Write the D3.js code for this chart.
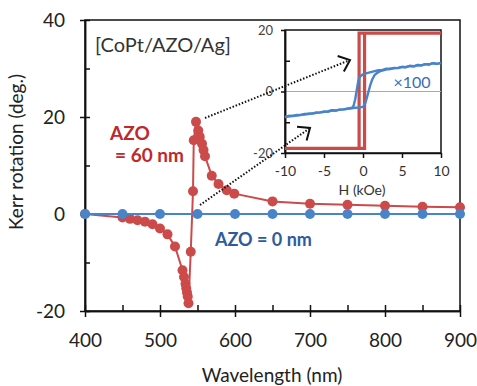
<!DOCTYPE html>
<html>
<head>
<meta charset="utf-8">
<script src="https://cdn.jsdelivr.net/npm/d3@7"></script>
<style>
  html, body { margin: 0; padding: 0; background: #fff; }
  svg { display: block; font-family: Lato, "Open Sans", sans-serif; }
</style>
</head>
<body>
<svg id="chart" width="477" height="386"></svg>
<script>
// Kerr rotation spectra, CoPt/AZO/Ag stack
const wavelength60 = [400, 450, 460, 470, 480, 490, 500, 510, 520, 530, 532, 534, 535, 536, 537, 538, 541, 544, 545, 548, 551, 553, 556, 558, 560, 569, 578, 589, 599, 650, 700, 750, 800, 850, 900];
const kerr60 = [0, -0.7, -1.0, -1.3, -1.6, -2.1, -3.0, -4.2, -6.7, -11.6, -13.0, -14.4, -15.3, -16.2, -17.0, -18.4, -7.8, 4.7, 15.2, 19.0, 17.2, 15.9, 14.5, 13.2, 11.9, 7.9, 6.2, 4.9, 4.2, 2.6, 2.1, 1.9, 1.7, 1.5, 1.4];
const wavelength0 = [400, 450, 500, 550, 600, 650, 700, 750, 800, 850, 900];
const kerr0 = [0, 0, 0, 0, 0, 0, 0, 0, 0, 0, 0];

const xTicks = [400, 500, 600, 700, 800, 900];
const xMinorTicks = [450, 550, 650, 750, 850];
const yTicks = [-20, 0, 20, 40];
const yMinorTicks = [-10, 10, 30];

// Hysteresis loops (inset): field in kOe, rotation in deg.
const loopH60 = [-10, 0.2, 0.2, 10, -0.5, -0.5, -10];
const loopK60 = [-18.5, -18.5, 19, 19, 19, -18.5, -18.5];
const loopHDown0 = [10, 9.5, 9, 8.5, 8, 7.5, 7, 6.5, 6, 5.5, 5, 4.5, 4, 3.5, 3, 2.5, 2, 1.5, 1, 0.5, 0, -0.4, -0.6, -0.8, -1.0, -1.2, -1.4, -2, -2.5, -3, -3.5, -4, -4.5, -5, -5.5, -6, -6.5, -7, -7.5, -8, -8.5, -9, -9.5, -10];
const loopKDown0 = [9.3, 9.0, 9.2, 8.8, 8.9, 8.5, 8.6, 8.2, 8.3, 7.9, 8.0, 7.6, 7.7, 7.3, 7.4, 7.0, 6.9, 6.6, 6.3, 6.0, 5.6, 4.8, 3.5, 0.5, -2.5, -4.6, -5.3, -5.6, -5.8, -5.9, -6.2, -6.1, -6.5, -6.6, -6.8, -6.9, -7.1, -7.3, -7.3, -7.7, -7.6, -8.0, -7.9, -8.3];
const loopHUp0 = [-10, -9.5, -9, -8.5, -8, -7.5, -7, -6.5, -6, -5.5, -5, -4.5, -4, -3.5, -3, -2.5, -2, -1.5, -1, -0.5, 0, 0.3, 0.6, 0.9, 1.2, 1.5, 1.8, 2.2, 2.6, 3, 3.5, 4, 4.5, 5, 5.5, 6, 6.5, 7, 7.5, 8, 8.5, 9, 9.5, 10];
const loopKUp0 = [-8.3, -8.1, -7.9, -7.8, -7.6, -7.5, -7.2, -7.2, -6.9, -6.8, -6.6, -6.5, -6.2, -6.2, -5.9, -5.8, -5.6, -5.5, -5.3, -5.2, -5.0, -3.8, -1.0, 1.8, 4.0, 5.4, 6.0, 6.6, 6.9, 7.2, 7.4, 7.6, 7.7, 8.0, 7.9, 8.3, 8.2, 8.6, 8.5, 8.9, 8.8, 9.2, 9.0, 9.3];
const insetXTicks = [-10, -5, 0, 5, 10];
const insetYTicks = [-20, 0, 20];
const insetYMinorTicks = [-10, 10];

const RED = "#cc4a4a", BLUE = "#4a84c8";
const RED_TEXT = "#c0282d", BLUE_TEXT = "#2c5b9e";
const plain = d => String(d);   // ASCII hyphen for negatives

const svg = d3.select("#chart");

// ---------- main chart ----------
const x = d3.scaleLinear().domain([400, 900]).range([85, 460]);
const y = d3.scaleLinear().domain([-20, 40]).range([311, 20]);

// frame
svg.append("rect").attr("x", 85).attr("y", 20).attr("width", 375).attr("height", 291)
  .attr("fill", "none").attr("stroke", "#111").attr("stroke-width", 1.5);

function styleAxis(g) {
  g.selectAll("path").attr("stroke", "#111").attr("stroke-width", 1.5);
  g.selectAll("line").attr("stroke", "#111").attr("stroke-width", 1.5);
  g.selectAll("text").attr("fill", "#222");
}

// y axis: outer major ticks with labels, inner ticks on every step
svg.append("g").attr("transform", "translate(85,0)")
  .call(d3.axisLeft(y).tickValues(yTicks).tickFormat(plain).tickSize(5).tickSizeOuter(0).tickPadding(15))
  .call(styleAxis)
  .call(g => g.selectAll("text").attr("font-size", 19).attr("font-family", "Lato"));
svg.append("g").attr("transform", "translate(85,0)")
  .call(d3.axisRight(y).tickValues(yTicks.concat(yMinorTicks)).tickSize(5).tickSizeOuter(0).tickFormat(""))
  .call(styleAxis);

// x axis
svg.append("g").attr("transform", "translate(0,311)")
  .call(d3.axisBottom(x).tickValues(xTicks).tickFormat(plain).tickSize(6).tickSizeOuter(0).tickPadding(17))
  .call(styleAxis)
  .call(g => g.selectAll("text").attr("font-size", 19).attr("font-family", "Lato"));
svg.append("g").attr("transform", "translate(0,311)")
  .call(d3.axisTop(x).tickValues(xTicks.concat(xMinorTicks)).tickSize(6).tickSizeOuter(0).tickFormat(""))
  .call(styleAxis);

// axis titles
svg.append("text").attr("x", 272).attr("y", 382).attr("text-anchor", "middle")
  .attr("font-size", 19).attr("fill", "#222").text("Wavelength (nm)");
svg.append("text").attr("transform", "translate(23,152) rotate(-90)").attr("text-anchor", "middle")
  .attr("font-size", 19).attr("fill", "#222").text("Kerr rotation (deg.)");

// series
const line = d3.line().x(d => x(d[0])).y(d => y(d[1]));
const red = wavelength60.map((w, i) => [w, kerr60[i]]);
const blue = wavelength0.map((w, i) => [w, kerr0[i]]);

svg.append("path").datum(red).attr("d", line).attr("fill", "none")
  .attr("stroke", RED).attr("stroke-width", 2);
svg.append("g").selectAll("circle").data(red).join("circle")
  .attr("cx", d => x(d[0])).attr("cy", d => y(d[1])).attr("r", 5).attr("fill", RED);

svg.append("path").datum(blue).attr("d", line).attr("fill", "none")
  .attr("stroke", BLUE).attr("stroke-width", 2);
svg.append("g").selectAll("circle").data(blue).join("circle")
  .attr("cx", d => x(d[0])).attr("cy", d => y(d[1])).attr("r", 5).attr("fill", BLUE);

// labels
svg.append("text").attr("x", 95).attr("y", 52).attr("font-size", 20).attr("fill", "#333")
  .text("[CoPt/AZO/Ag]");
svg.append("text").attr("x", 110).attr("y", 140).attr("font-size", 19).attr("font-weight", "bold")
  .attr("fill", RED_TEXT).text("AZO");
svg.append("text").attr("x", 115).attr("y", 162).attr("font-size", 19).attr("font-weight", "bold")
  .attr("fill", RED_TEXT).text("= 60 nm");
svg.append("text").attr("x", 215).attr("y", 246).attr("font-size", 18).attr("font-weight", "bold")
  .attr("fill", BLUE_TEXT).text("AZO = 0 nm");

// ---------- inset: hysteresis loops ----------
const ix = d3.scaleLinear().domain([-10, 10]).range([285, 441]);
const iy = d3.scaleLinear().domain([-20, 20]).range([153, 30]);

svg.append("rect").attr("x", 285).attr("y", 30).attr("width", 156).attr("height", 123)
  .attr("fill", "#fff").attr("stroke", "#111").attr("stroke-width", 1.5);
svg.append("line").attr("x1", ix(-10)).attr("x2", ix(10)).attr("y1", iy(0)).attr("y2", iy(0))
  .attr("stroke", "#aaa").attr("stroke-width", 1.2);

svg.append("g").attr("transform", "translate(285,0)")
  .call(d3.axisLeft(iy).tickValues(insetYTicks).tickFormat(plain).tickSize(4).tickSizeOuter(0).tickPadding(8))
  .call(styleAxis)
  .call(g => g.selectAll("text").attr("font-size", 13).attr("fill", "#444").attr("font-family", "Lato"));
svg.append("g").attr("transform", "translate(285,0)")
  .call(d3.axisRight(iy).tickValues(insetYMinorTicks).tickSize(5).tickSizeOuter(0).tickFormat(""))
  .call(styleAxis);
svg.append("g").attr("transform", "translate(0,153)")
  .call(d3.axisBottom(ix).tickValues(insetXTicks).tickFormat(plain).tickSize(5).tickSizeOuter(0).tickPadding(8))
  .call(styleAxis)
  .call(g => g.selectAll("text").attr("font-size", 14).attr("fill", "#333").attr("font-family", "Lato"));
svg.append("text").attr("x", 362).attr("y", 195).attr("text-anchor", "middle")
  .attr("font-size", 14).attr("fill", "#333").text("H (kOe)");

const iline = d3.line().x(d => ix(d[0])).y(d => iy(d[1]));
svg.append("path").datum(loopH60.map((h, i) => [h, loopK60[i]])).attr("d", iline)
  .attr("fill", "none").attr("stroke", RED).attr("stroke-width", 3.2).attr("stroke-linejoin", "miter");
svg.append("path").datum(loopHDown0.map((h, i) => [h, loopKDown0[i]])).attr("d", iline)
  .attr("fill", "none").attr("stroke", BLUE).attr("stroke-width", 2.4).attr("stroke-linejoin", "round");
svg.append("path").datum(loopHUp0.map((h, i) => [h, loopKUp0[i]])).attr("d", iline)
  .attr("fill", "none").attr("stroke", BLUE).attr("stroke-width", 2.4).attr("stroke-linejoin", "round");
svg.append("text").attr("x", 412).attr("y", 88).attr("text-anchor", "middle")
  .attr("font-size", 16).attr("fill", "#3a6db3").text("×100");

// dotted pointers from the spectrum peaks to the loops
function pointer(x1, y1, x2, y2) {
  svg.append("line").attr("x1", x1).attr("y1", y1).attr("x2", x2).attr("y2", y2)
    .attr("stroke", "#111").attr("stroke-width", 2).attr("stroke-dasharray", "1.5,1.8");
  const back = Math.atan2(y1 - y2, x1 - x2), len = 13, spread = 40 * Math.PI / 180;
  const pts = [back + spread, back - spread].map(a => [x2 + len * Math.cos(a), y2 + len * Math.sin(a)]);
  svg.append("path")
    .attr("d", `M${pts[0][0]},${pts[0][1]}L${x2},${y2}L${pts[1][0]},${pts[1][1]}`)
    .attr("fill", "none").attr("stroke", "#111").attr("stroke-width", 2);
}
pointer(205, 118, 350, 60);
pointer(200, 205, 310, 128);
</script>
</body>
</html>
